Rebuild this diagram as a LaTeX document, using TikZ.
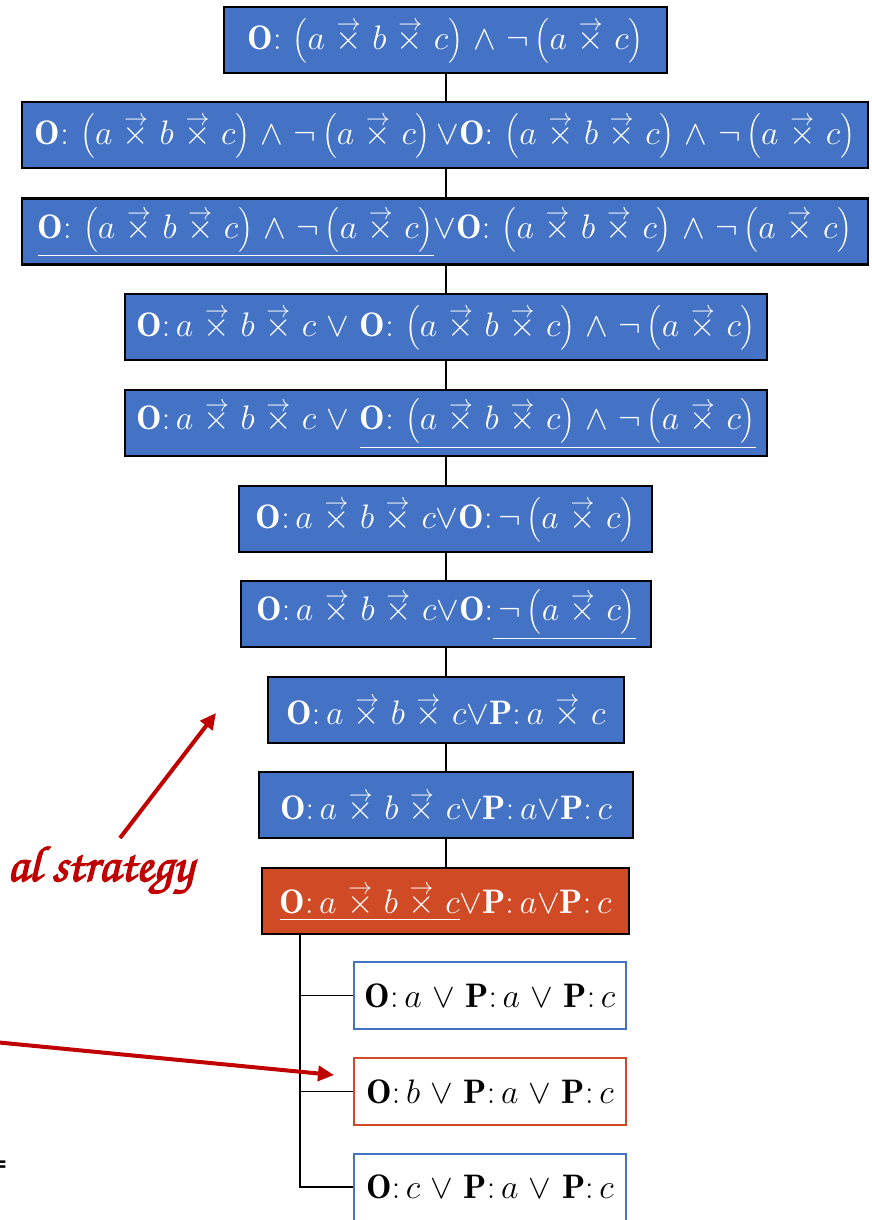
\RequirePackage{fix-cm}
\documentclass[tikz,border=0pt]{standalone}
\usepackage{amsmath}
\usepackage{fontspec}
\usetikzlibrary{arrows.meta}
\newfontfamily\chorus[Extension=.otf,FakeBold=2.5]{texgyrechorus-mediumitalic}
\newfontfamily\dejasans{DejaVu Sans}
\definecolor{boxblue}{HTML}{4472C4}
\definecolor{boxred}{HTML}{D14A26}
\definecolor{arrred}{HTML}{C00000}
\newcommand{\vxglyph}{\hbox{\ooalign{$\times$\cr\hidewidth\raisebox{18.5pt}{$\scriptstyle\rightarrow$}\hidewidth\cr}}}
\newcommand{\vx}{\mathbin{\vphantom{\overrightarrow{\times}}\smash{\vxglyph}}}
\newcommand{\OO}{\mathbf{O}{:}\,}
\newcommand{\PP}{\mathbf{P}{:}\,}
\newcommand{\pp}[1]{\left(#1\right)}
\medmuskip=5.5mu plus 2mu minus 2mu
\begin{document}
\begin{tikzpicture}[x=1pt,y=-1pt,
  bx/.style={draw=black, line width=2.4pt, fill=boxblue, text=white, minimum height=66pt, inner sep=0pt, font=\fontsize{34}{40}\selectfont},
  rbx/.style={bx, fill=boxred},
  wbx/.style={draw=boxblue, line width=2pt, fill=white, text=black, minimum width=272pt, minimum height=67pt, inner sep=0pt, font=\fontsize{34}{40}\selectfont},
  wrbx/.style={wbx, draw=boxred},
  conn/.style={line width=1.8pt, draw=black},
  redarrow/.style={line width=4pt, draw=arrred, -{Triangle[length=16pt,width=15pt]}}
]
\useasboundingbox (0,0) rectangle (871,1220);

\node[bx, minimum width=443pt] (b1) at (445.5,40) {$\OO \pp{a\vx b\vx c}\wedge\neg\pp{a\vx c}$};
\node[bx, minimum width=846pt] (b2) at (445,135) {$\OO \pp{a\vx b\vx c}\wedge\neg\pp{a\vx c}\mathord{\vee}\OO \pp{a\vx b\vx c}\wedge\neg\pp{a\vx c}$};
\node[bx, minimum width=846pt] (b3) at (445,231.5) {$\underline{\OO \pp{a\vx b\vx c}\wedge\neg\pp{a\vx c}}\mathord{\vee}\OO \pp{a\vx b\vx c}\wedge\neg\pp{a\vx c}$};
\node[bx, minimum width=642pt] (b4) at (446,327) {$\OO a\vx b\vx c\vee\OO \pp{a\vx b\vx c}\wedge\neg\pp{a\vx c}$};
\node[bx, minimum width=642pt] (b5) at (446,423) {$\OO a\vx b\vx c\vee\underline{\OO \pp{a\vx b\vx c}\wedge\neg\pp{a\vx c}}$};
\node[bx, minimum width=413pt] (b6) at (445.5,519) {$\OO a\vx b\vx c\mathord{\vee}\OO \neg\pp{a\vx c}$};
\node[bx, minimum width=410pt] (b7) at (446,614) {$\OO a\vx b\vx c\mathord{\vee}\mathbf{O}{:}\underline{\,\neg\pp{a\vx c}}$};
\node[bx, minimum width=356pt] (b8) at (446,710) {$\OO a\vx b\vx c\mathord{\vee}\PP a\vx c$};
\node[bx, minimum width=374pt] (b9) at (446,805) {$\OO a\vx b\vx c\mathord{\vee}\PP a\mathord{\vee}\PP c$};
\node[rbx, minimum width=367pt] (b10) at (445.5,901) {$\underline{\OO a\vx b\vx c}\mathord{\vee}\PP a\mathord{\vee}\PP c$};
\node[wbx] (b11) at (490,995.5) {$\OO a \vee \PP a \vee \PP c$};
\node[wrbx] (b12) at (490,1091.5) {$\OO b \vee \PP a \vee \PP c$};
\node[wbx] (b13) at (490,1187) {$\OO c \vee \PP a \vee \PP c$};

\foreach \u/\v in {b1/b2,b2/b3,b3/b4,b4/b5,b5/b6,b6/b7,b7/b8,b8/b9,b9/b10}
  \draw[conn] (\u.south -| 446,0) -- (\v.north -| 446,0);
\coordinate (trunk) at (300,0);
\draw[conn] (b10.south -| trunk) |- (b13.west);
\draw[conn] (b11.west) -- (b11.west -| trunk);
\draw[conn] (b12.west) -- (b12.west -| trunk);

\coordinate (a1s) at (120,838);
\coordinate (a1e) at (216,713);
\draw[redarrow] (a1s) -- (a1e);
\coordinate (a2s) at (-6,1042);
\coordinate (a2e) at (334,1075);
\draw[redarrow] (a2s) -- (a2e);

\node[anchor=base west, inner sep=0pt, text=arrred] (strat) at (7,881) {\resizebox{186pt}{!}{\chorus al strategy}};
\node[anchor=east, inner sep=0pt] (eq) at (8,1166) {\dejasans\bfseries\fontsize{22}{24}\selectfont =};
\end{tikzpicture}
\end{document}
